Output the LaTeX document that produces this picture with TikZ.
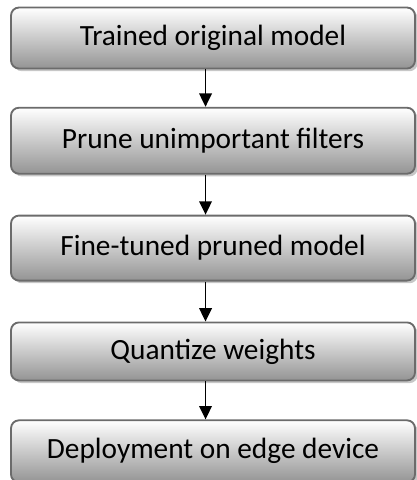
\documentclass[tikz,border=0pt]{standalone}
\usepackage{fontspec}
\setmainfont{Carlito}
\usetikzlibrary{positioning,arrows.meta,shadows}
\definecolor{boxline}{rgb}{0.42,0.42,0.42}

\begin{document}
\begin{tikzpicture}[x=0.75pt, y=-0.75pt, node distance=30pt,
	step box/.style = {shape=rectangle, draw=boxline, line width=1.4pt, rounded corners=6pt, align=center, top color=white, bottom color=black!42, minimum width=303pt, font=\fontsize{22}{26}\selectfont, drop shadow={shadow xshift=2pt, shadow yshift=-2pt, fill=black!22, opacity=1}},
	flow/.style = {line width=1.1pt, -{Triangle[width=9.5pt,length=10pt]}}]
	\useasboundingbox (0,0) rectangle (417,480);
	\node[step box, minimum height=45.75pt] (trained) at (213,38) {Trained original model};
	\node[step box, minimum height=49.5pt, below=28pt of trained] (prune) {Prune unimportant filters};
	\node[step box, minimum height=48.75pt, below=30pt of prune] (finetune) {Fine-tuned pruned model};
	\node[step box, minimum height=43.5pt, below=30pt of finetune] (quant) {Quantize weights};
	\node[step box, minimum height=46.5pt, below=28.5pt of quant] (deploy) {Deployment on edge device};
	\draw[flow] ([xshift=-5.6pt]trained.south) -- ([xshift=-5.6pt]prune.north);
	\draw[flow] ([xshift=-5.6pt]prune.south) -- ([xshift=-5.6pt]finetune.north);
	\draw[flow] ([xshift=-5.6pt]finetune.south) -- ([xshift=-5.6pt]quant.north);
	\draw[flow] ([xshift=-5.6pt]quant.south) -- ([xshift=-5.6pt]deploy.north);
\end{tikzpicture}
\end{document}
